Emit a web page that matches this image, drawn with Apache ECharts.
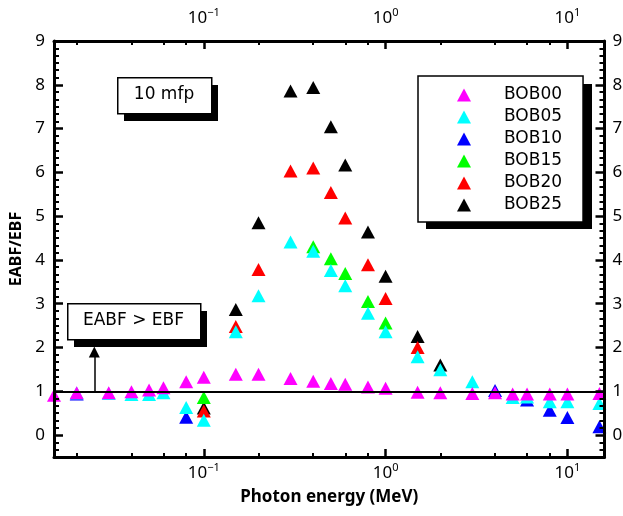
<!DOCTYPE html>
<html>
<head>
<meta charset="utf-8">
<script src="https://cdn.jsdelivr.net/npm/echarts@6/dist/echarts.min.js"></script>
<style>
  html, body { margin: 0; padding: 0; background: #fff; }
  #chart { width: 623px; height: 516px; }
</style>
</head>
<body>
<div id="chart"></div>
<script>
// photon energies (MeV)
const energy = [0.015, 0.02, 0.03, 0.04, 0.05, 0.06, 0.08, 0.1, 0.15, 0.2, 0.3, 0.4, 0.5,
  0.6, 0.8, 1, 1.5, 2, 3, 4, 5, 6, 8, 10, 15]

// EABF/EBF at 10 mfp, null = point hidden behind another marker
const bob00 = [0.91, 0.97, 0.97, 0.99, 1.03, 1.08, 1.22, 1.32, 1.39, 1.39, 1.29, 1.23, 1.18,
  1.16, 1.10, 1.07, 0.98, 0.97, 0.95, 0.97, 0.94, 0.94, 0.94, 0.94, 0.95]
const bob05 = [null, 0.96, 0.95, 0.93, 0.93, 0.97, 0.63, 0.34, 2.36, 3.18, 4.41, 4.20, 3.76,
  3.41, 2.78, 2.36, 1.79, 1.49, 1.22, null, 0.86, 0.87, 0.76, 0.76, 0.72]
const bob10 = [null, 0.94, null, null, null, null, 0.41, null, null, null, null, null, null,
  null, null, null, null, null, null, 1.02, null, 0.80, 0.57, 0.40, 0.19]
const bob15 = [null, null, null, null, null, null, null, 0.86, null, null, null, 4.30, 4.03,
  3.69, 3.05, 2.56, null, null, null, null, null, null, null, null, null]
const bob20 = [null, null, null, null, null, null, null, 0.55, 2.48, 3.78, 6.03, 6.10, 5.54,
  4.96, 3.89, 3.12, 2.00, null, null, null, null, null, null, null, null]
const bob25 = [null, null, null, null, null, null, null, 0.62, 2.87, 4.85, 7.86, 7.94, 7.04,
  6.17, 4.64, 3.63, 2.25, 1.60, null, null, null, null, null, null, null]

const seriesNames = ['BOB00', 'BOB05', 'BOB10', 'BOB15', 'BOB20', 'BOB25']
const seriesColors = ['#ff00ff', '#00ffff', '#0000ff', '#00ff00', '#ff0000', '#000000']
const seriesValues = [bob00, bob05, bob10, bob15, bob20, bob25]

// tick labels / positions
const xMajor = [0.1, 1, 10]
const xMinor = [0.02, 0.04, 0.06, 0.08, 0.2, 0.4, 0.6, 0.8, 2, 4, 6, 8]
const yMajor = [0, 1, 2, 3, 4, 5, 6, 7, 8, 9]
const yMinor = []
for (let k = -2; k <= 53; k++) {
  if (k % 6 !== 0) yMinor.push(k / 6)
}

const LABEL_FONT = 'Noto Sans'
const BOX_FONT = 'DejaVu Sans'

const expLabel = (v) => {
  const e = Math.round(Math.log10(v))
  return '{b|10}{s|' + (e < 0 ? '\u2212' + (-e) : e) + '}'
}
const expRich = {
  b: { fontFamily: LABEL_FONT, fontSize: 17, color: '#000', lineHeight: 22 },
  s: { fontFamily: LABEL_FONT, fontSize: 11, color: '#000', lineHeight: 11, verticalAlign: 'top' }
}

const xBase = { type: 'log', logBase: 10, min: 0.015, max: 16, splitLine: { show: false } }
const yBase = { type: 'value', min: -0.5, max: 9, splitLine: { show: false } }
const frameLine = { show: true, onZero: false, lineStyle: { color: '#000', width: 3 } }
const noLine = { show: false, onZero: false }

const xAxes = [
  Object.assign({}, xBase, {
    position: 'bottom', z: 10,
    axisLine: frameLine,
    axisTick: { inside: true, length: 8, customValues: xMajor, lineStyle: { color: '#000', width: 2.5 } },
    axisLabel: { customValues: xMajor, margin: 5, formatter: expLabel, rich: expRich },
    name: 'Photon energy (MeV)', nameLocation: 'middle', nameGap: 32,
    nameTextStyle: { fontFamily: LABEL_FONT, fontSize: 17, fontWeight: 'bold', color: '#000' }
  }),
  Object.assign({}, xBase, {
    position: 'bottom', z: 10,
    axisLine: noLine,
    axisTick: { inside: true, length: 4, customValues: xMinor, lineStyle: { color: '#000', width: 2 } },
    axisLabel: { show: false }
  }),
  Object.assign({}, xBase, {
    position: 'top', z: 10,
    axisLine: frameLine,
    axisTick: { inside: true, length: 8, customValues: xMajor, lineStyle: { color: '#000', width: 2.5 } },
    axisLabel: { customValues: xMajor, margin: 12, formatter: expLabel, rich: expRich }
  }),
  Object.assign({}, xBase, {
    position: 'top', z: 10,
    axisLine: noLine,
    axisTick: { inside: true, length: 4, customValues: xMinor, lineStyle: { color: '#000', width: 2 } },
    axisLabel: { show: false }
  })
]

const yLabel = { customValues: yMajor, fontFamily: LABEL_FONT, fontSize: 17, color: '#000' }
const yAxes = [
  Object.assign({}, yBase, {
    position: 'left', z: 10,
    axisLine: frameLine,
    axisTick: { inside: true, length: 9, customValues: yMajor, lineStyle: { color: '#000', width: 2.5 } },
    axisLabel: Object.assign({ margin: 9 }, yLabel),
    name: 'EABF/EBF', nameLocation: 'middle', nameGap: 30,
    nameTextStyle: { fontFamily: LABEL_FONT, fontSize: 16, fontWeight: 'bold', color: '#000' }
  }),
  Object.assign({}, yBase, {
    position: 'left', z: 10,
    axisLine: noLine,
    axisTick: { inside: true, length: 5, customValues: yMinor, lineStyle: { color: '#000', width: 2 } },
    axisLabel: { show: false }
  }),
  Object.assign({}, yBase, {
    position: 'right', z: 10,
    axisLine: frameLine,
    axisTick: { inside: true, length: 9, customValues: yMajor, lineStyle: { color: '#000', width: 2.5 } },
    axisLabel: Object.assign({ margin: 8 }, yLabel)
  }),
  Object.assign({}, yBase, {
    position: 'right', z: 10,
    axisLine: noLine,
    axisTick: { inside: true, length: 5, customValues: yMinor, lineStyle: { color: '#000', width: 2 } },
    axisLabel: { show: false }
  })
]

// BOB00 is drawn last so it sits on top, as in the original plot
const series = seriesNames.map((name, i) => ({
  name: name,
  type: 'scatter',
  symbol: 'triangle',
  symbolSize: [14, 13],
  itemStyle: { color: seriesColors[i], opacity: 1 },
  data: energy.map((e, j) => seriesValues[i][j] == null ? null : [e, seriesValues[i][j]]).filter(Boolean)
})).reverse()

series[series.length - 1].markLine = {
  silent: true,
  animation: false,
  symbol: 'none',
  label: { show: false },
  lineStyle: { color: '#000', width: 1.5, type: 'solid' },
  data: [
    { yAxis: 1, lineStyle: { color: '#000', width: 2, type: 'solid' } },
    [
      { coord: [0.025, 1], symbol: 'none' },
      { coord: [0.025, 1.9], symbol: 'triangle', symbolSize: 11 }
    ]
  ]
}

const box = (x, y, w, h, text, fontSize) => [
  { type: 'rect', left: x + 7, top: y + 8, shape: { width: w, height: h }, style: { fill: '#000' }, z: 20 },
  { type: 'rect', left: x, top: y, shape: { width: w, height: h }, style: { fill: '#fff', stroke: '#000', lineWidth: 1.5 }, z: 21 },
  {
    type: 'text', x: x + w / 2, y: y + h / 2, z: 22,
    style: { text: text, fontFamily: BOX_FONT, fontSize: fontSize, fill: '#000', align: 'center', verticalAlign: 'middle' }
  }
]

const chart = echarts.init(document.getElementById('chart'))
chart.setOption({
  animation: false,
  backgroundColor: '#fff',
  grid: { left: 54, right: 18.5, top: 41, bottom: 59, containLabel: false, outerBoundsMode: 'none' },
  xAxis: xAxes,
  yAxis: yAxes,
  legend: {
    orient: 'vertical',
    left: 418,
    top: 76,
    z: 30,
    data: seriesNames,
    icon: 'triangle',
    itemWidth: 14,
    itemHeight: 13,
    itemGap: 2,
    padding: [9, 21, 7, 39],
    backgroundColor: '#fff',
    borderColor: '#000',
    borderWidth: 1.5,
    selectedMode: false,
    textStyle: { fontFamily: BOX_FONT, fontSize: 17, color: '#000', lineHeight: 20, padding: [0, 0, 0, 28] }
  },
  graphic: [].concat(
    [{ type: 'rect', left: 426, top: 84, shape: { width: 166, height: 145 }, style: { fill: '#000' }, z: 1 }],
    box(117, 77, 94, 36, '10 mfp', 17),
    box(67, 303, 133, 36, 'EABF > EBF', 17)
  ),
  series: series
})
</script>
</body>
</html>
